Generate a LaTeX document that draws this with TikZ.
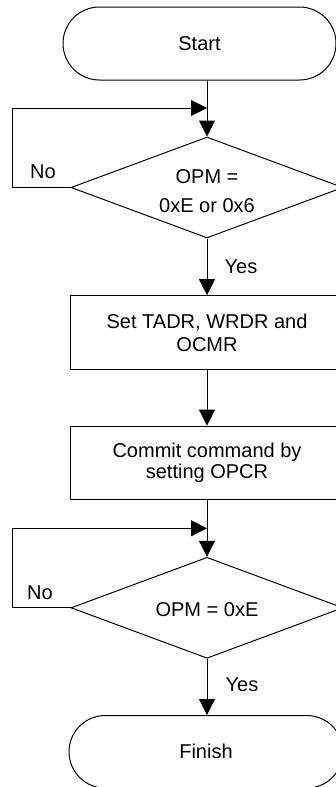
\documentclass[tikz,border=0pt]{standalone}
\usepackage{fontspec}
\setmainfont{Liberation Sans}
\usetikzlibrary{arrows.meta,shapes.geometric,shapes.misc}
\begin{document}
\begin{tikzpicture}[x=1pt,y=-1pt, line width=1pt,
  every node/.append style={font=\fontsize{20}{24}\selectfont, inner sep=0pt},
  term/.style={draw, rounded rectangle, minimum width=273pt, minimum height=73pt},
  proc/.style={draw, rectangle, minimum width=274pt, minimum height=73.6pt, align=center},
  dec/.style={draw, diamond, minimum width=272pt, minimum height=101pt},
  txt/.style={align=center},
  arr/.style={-{Triangle[length=16pt,width=16pt]}}]
\useasboundingbox (0,0) rectangle (336,787);
% nodes
\node[term] (start) at (199.5,43.5) {Start};
\node[dec] (d1) at (207,187.5) {};
\node[txt, font=\fontsize{20}{29}\selectfont] (d1t) at (207,191) {OPM =\\0xE or 0x6};
\node[proc, font=\fontsize{20}{23}\selectfont] (p1) at (207,332.5) {Set TADR, WRDR and\\OCMR};
\node[proc, font=\fontsize{20}{21}\selectfont] (p2) at (207,463) {Commit command by\\setting OPCR};
\node[dec] (d2) at (207,607.8) {};
\node[txt] (d2t) at (207,610) {OPM = 0xE};
\node[term, minimum width=274pt, minimum height=72.6pt] (fin) at (206,751.8) {Finish};
% labels
\node (no1) at (43,172) {No};
\node (yes1) at (241,267) {Yes};
\node (no2) at (40,593) {No};
\node (yes2) at (242,685) {Yes};
% junction coordinates
\coordinate (j1) at (207,108);
\coordinate (c1) at (12,108);
\coordinate (j2) at (207,528.3);
\coordinate (c2) at (12,528.3);
% connectors
\draw[arr] (start.south -| d1.north) -- (d1.north);
\draw[arr] (d1.west) -- (d1.west -| c1) -- (c1) -- (j1);
\draw[arr] (d1.south) -- (p1.north);
\draw[arr] (p1.south) -- (p2.north);
\draw[arr] (p2.south) -- (d2.north);
\draw[arr] (d2.west) -- (d2.west -| c2) -- (c2) -- (j2);
\draw[arr] (d2.south) -- (d2.south |- fin.north);
\end{tikzpicture}
\end{document}
